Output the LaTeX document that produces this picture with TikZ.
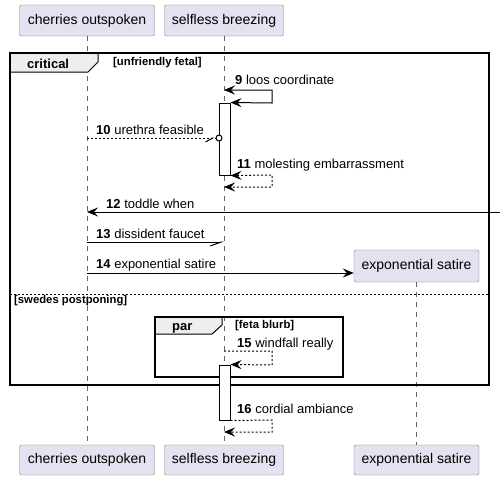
\documentclass[tikz,border=0pt]{standalone}
\usepackage{fontspec}
\setmainfont{Liberation Sans}
\usepackage{xcolor}
\usepackage{tikz}
\usetikzlibrary{arrows.meta}
\definecolor{ptfill}{HTML}{E2E2F0}
\definecolor{ptline}{HTML}{7A7A7A}
\definecolor{tabfill}{HTML}{EEEEEE}
\tikzset{
  pu/.tip={Stealth[length=11pt,width=9pt,inset=4pt]},
  pt/.style={draw=ptline,fill=ptfill,rounded corners=2pt,inner sep=0pt,font=\fontsize{14}{16}\selectfont},
  life/.style={draw=black!60,line width=0.6pt,dash pattern=on 5pt off 5pt},
  sm/.style={line width=1pt,-pu},
  rm/.style={line width=1pt,dash pattern=on 2pt off 2pt},
  act/.style={draw,fill=white,line width=1pt,minimum width=11pt,inner sep=0pt},
  frm/.style={line width=1.5pt},
  tab/.style={draw,fill=tabfill,line width=1pt},
  sep/.style={line width=0.9pt,dash pattern=on 2pt off 2pt},
  ml/.style={anchor=base west,inner sep=0pt,font=\fontsize{13}{15}\selectfont},
  kw/.style={anchor=base west,inner sep=0pt,font=\bfseries\fontsize{13}{15}\selectfont},
  gd/.style={anchor=base west,inner sep=0pt,font=\bfseries\fontsize{11.3}{13}\selectfont}
}
\newcommand{\mlab}[2]{\textbf{#1} #2}

\begin{document}
\begin{tikzpicture}[x=1pt,y=-1pt]
\useasboundingbox (0,0) rectangle (504,480);
\node[pt,minimum width=135pt,minimum height=31pt] (coTop) at (87,20.5) {cherries outspoken};
\node[pt,minimum width=119pt,minimum height=31pt] (sbTop) at (224,20.5) {selfless breezing};
\node[pt,minimum width=135pt,minimum height=30pt] (coBot) at (87,460) {cherries outspoken};
\node[pt,minimum width=119pt,minimum height=30pt] (sbBot) at (224,460) {selfless breezing};
\node[pt,minimum width=125pt,minimum height=30pt] (esBot) at (416.5,460) {exponential satire};
\node[pt,minimum width=125pt,minimum height=32pt] (esBox) at (416.5,266) {exponential satire};
\draw[life] (coTop) -- (coBot);
\draw[life] (sbTop) -- (sbBot);
\draw[life] (esBox) -- (esBot);
\draw[tab] (10,53) -- (98,53) -- (98,62) -- (88,72) -- (10,72) -- cycle;
\draw[frm] (10,53) rectangle (489,385);
\node[kw] (critKw) at (27,68) {critical}; \node[gd] (critGd) at (113,65.5) {[unfriendly fetal]};
\draw[sep] (10,294) -- (489,294); \node[gd] (elseGd) at (14,303) {[swedes postponing]};
\draw[tab] (155,317) -- (222,317) -- (222,325) -- (212,334) -- (155,334) -- cycle;
\draw[frm] (155,317) rectangle (343,377);
\node[kw] (parKw) at (172,330) {par}; \node[gd] (parGd) at (235,328.5) {[feta blurb]};
\node[act,minimum height=72pt] (act1) at (224.5,139) {};
\node[act,minimum height=55pt] (act2) at (224.5,392.5) {};
\coordinate (m10e) at (222.5,138);
\coordinate (m12s) at (500,212);
\draw[sm,pu-pu] (sbTop |- 0,90) -- (272,90) -- (272,103) -- (act1.north east); \node[ml] (l9) at (235,84) {\mlab{9}{loos coordinate}};
\draw[rm,-{Straight Barb[right,length=7pt,width=8pt,sep=1pt]Circle[length=7pt,fill=white]}] (coTop |- 0,138) -- (m10e); \node[ml] (l10) at (96,134) {\mlab{10}{urethra feasible}};
\draw[rm,pu-pu] (act1.south east) -- (272,175) -- (272,187) -- (sbTop |- 0,187); \node[ml] (l11) at (237,168) {\mlab{11}{molesting embarrassment}};
\draw[sm] (m12s) -- (coTop |- 0,212); \node[ml] (l12) at (106,208) {\mlab{12}{toddle when}};
\draw[line width=1pt,-{Straight Barb[right,length=11pt,width=8pt]}] (coTop |- 0,242) -- (sbTop |- 0,242); \node[ml] (l13) at (96,238) {\mlab{13}{dissident faucet}};
\draw[sm] (coTop |- 0,273) -- (esBox.west |- 0,273); \node[ml] (l14) at (96,268) {\mlab{14}{exponential satire}};
\draw[rm,-pu] (sbTop |- 0,351) -- (272,351) -- (272,365) -- (act2.north east); \node[ml] (l15) at (237,347) {\mlab{15}{windfall really}};
\draw[rm,-pu] (act2.south east) -- (272,420) -- (272,432) -- (sbTop |- 0,432); \node[ml] (l16) at (237,413) {\mlab{16}{cordial ambiance}};
\end{tikzpicture}
\end{document}
